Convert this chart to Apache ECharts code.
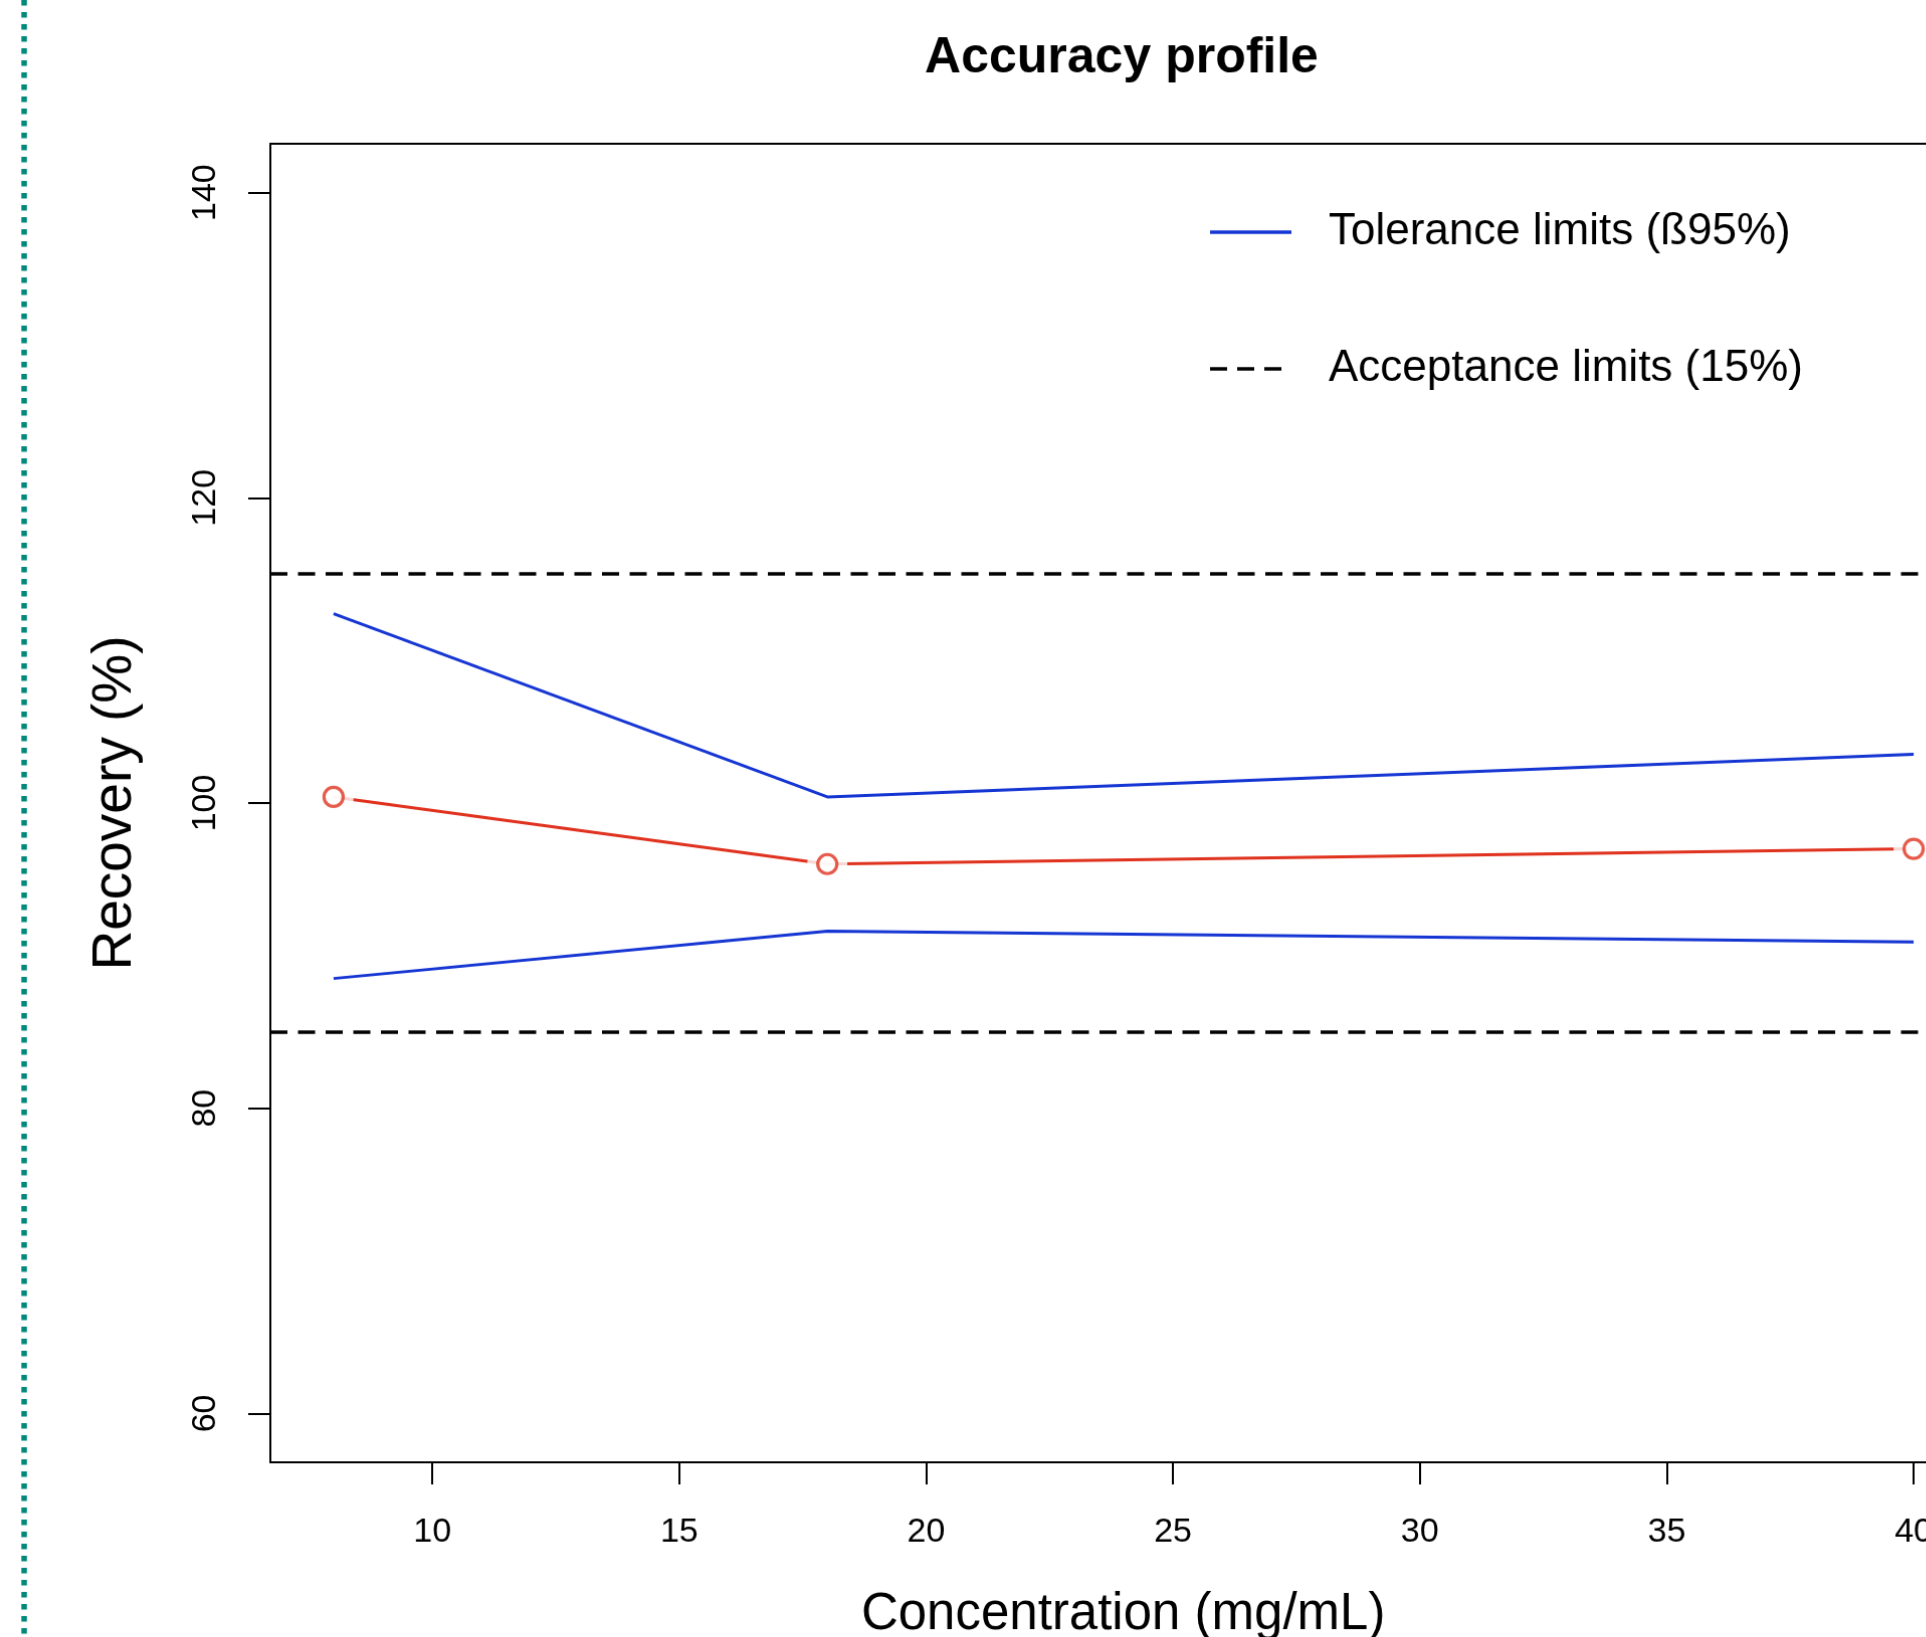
<!DOCTYPE html>
<html>
<head>
<meta charset="utf-8">
<title>Accuracy profile</title>
<script src="https://cdn.jsdelivr.net/npm/echarts@6/dist/echarts.min.js"></script>
<style>
  html, body { margin: 0; padding: 0; background: #fff; overflow: hidden; }
  /* small stretch so the plot box reaches the picture edges like the original */
  #chart { width: 1926px; height: 1637px; transform-origin: 0 0; transform: scale(1.005); }
</style>
</head>
<body>
<div id="chart"></div>
<script>
// concentration levels (mg/mL)
const conc = [8, 18, 40]
// tolerance limits (beta 95%)
const upperTol = [112.4, 100.4, 103.2]
const lowerTol = [88.5, 91.6, 90.9]
// mean recovery
const recovery = [100.4, 96.0, 97.0]
// acceptance limits (+-15%)
const acceptance = [115, 85]
// tick labels
const xTicks = [10, 15, 20, 25, 30, 35, 40]
const yTicks = [60, 80, 100, 120, 140]

const FONT = '"Liberation Sans", Arial, Helvetica, sans-serif'
const BLUE = '#1636d4'
const RED = '#e0321e'

const pairs = ys => conc.map((x, i) => [x, ys[i]])

// legend keys drawn as paths (solid bar, three dashes like R's legend)
const solidKey = 'path://M0,0H81V3H0Z'
const dashKey = 'path://M0,0H17V3.5H0Z M27,0H44V3.5H27Z M54,0H71V3.5H54Z M80.9,1.7H81V1.8H80.9Z'

// the original plot box is cut by the right edge of the picture,
// so the axis stops at the value that falls on that edge
const xMin = 6.72
const xMax = 40.31

const chart = echarts.init(document.getElementById('chart'))
chart.setOption({
  animation: false,
  backgroundColor: '#fff',
  textStyle: { fontFamily: FONT, color: '#000' },
  title: {
    text: 'Accuracy profile',
    left: 1116,
    textAlign: 'center',
    top: 33,
    padding: 0,
    textStyle: { fontFamily: FONT, fontSize: 50, fontWeight: 'bold', color: '#000' }
  },
  legend: {
    data: [
      { name: 'Tolerance limits (ß95%)', icon: solidKey },
      { name: 'Acceptance limits (15%)', icon: dashKey }
    ],
    orient: 'vertical',
    left: 1204,
    top: 209,
    padding: 0,
    itemWidth: 81,
    itemHeight: 3.5,
    itemGap: 92,
    symbolKeepAspect: false,
    selectedMode: false,
    textStyle: { fontFamily: FONT, fontSize: 44, lineHeight: 44, color: '#000', padding: [0, 0, 0, 32] }
  },
  grid: {
    left: 269,
    top: 143,
    right: 0,
    height: 1317,
    show: false,
    containLabel: false
  },
  xAxis: [
    {
      type: 'value',
      min: xMin,
      max: xMax,
      name: 'Concentration (mg/mL)',
      nameLocation: 'middle',
      nameGap: 126,
      nameTextStyle: { fontFamily: FONT, fontSize: 51, color: '#000', padding: [0, 0, 0, 47] },
      splitLine: { show: false },
      axisLine: { show: true, lineStyle: { color: '#000', width: 2 } },
      axisTick: { show: true, length: 22, lineStyle: { color: '#000', width: 2 }, customValues: xTicks },
      axisLabel: { fontFamily: FONT, fontSize: 34, color: '#000', margin: 53, customValues: xTicks }
    },
    {
      // top side of the box
      type: 'value',
      position: 'top',
      min: xMin,
      max: xMax,
      splitLine: { show: false },
      axisLine: { show: true, lineStyle: { color: '#000', width: 2 } },
      axisTick: { show: false },
      axisLabel: { show: false }
    }
  ],
  yAxis: {
    type: 'value',
    min: 56.8,
    max: 143.2,
    name: 'Recovery (%)',
    nameLocation: 'middle',
    nameGap: 127,
    nameTextStyle: { fontFamily: FONT, fontSize: 55, color: '#000' },
    splitLine: { show: false },
    axisLine: { show: true, lineStyle: { color: '#000', width: 2 } },
    axisTick: { show: true, length: 22, lineStyle: { color: '#000', width: 2 }, customValues: yTicks },
    axisLabel: { fontFamily: FONT, fontSize: 34, color: '#000', margin: 47, rotate: 90, customValues: yTicks }
  },
  graphic: [
    {
      type: 'line',
      silent: true,
      shape: { x1: 24, y1: 0, x2: 24, y2: 1637 },
      style: { stroke: '#00897b', lineWidth: 5.5, lineDash: [5.5, 6.5] }
    }
  ],
  series: [
    {
      name: 'Tolerance limits (ß95%)',
      type: 'line',
      data: pairs(upperTol),
      symbol: 'none',
      z: 2,
      lineStyle: { color: BLUE, width: 3 },
      itemStyle: { color: BLUE }
    },
    {
      name: 'Tolerance limits (ß95%)',
      type: 'line',
      data: pairs(lowerTol),
      symbol: 'none',
      z: 2,
      lineStyle: { color: BLUE, width: 3 },
      itemStyle: { color: BLUE }
    },
    {
      name: 'Acceptance limits (15%)',
      type: 'line',
      data: [],
      symbol: 'none',
      lineStyle: { color: '#000', width: 3.5, type: [17, 10.5] },
      itemStyle: { color: '#000' },
      markLine: {
        silent: true,
        symbol: 'none',
        label: { show: false },
        lineStyle: { color: '#000', width: 3.5, type: [17, 10.5] },
        emphasis: { disabled: true },
        data: acceptance.map(v => ({ yAxis: v }))
      }
    },
    {
      name: 'Recovery',
      type: 'line',
      data: pairs(recovery),
      symbol: 'none',
      z: 2,
      lineStyle: { color: RED, width: 3 }
    },
    {
      // white disc gives the gap between line and point, like R type "b"
      name: 'gap',
      type: 'scatter',
      data: pairs(recovery),
      symbol: 'circle',
      symbolSize: 40,
      silent: true,
      clip: false,
      z: 3,
      itemStyle: { color: '#fff' }
    },
    {
      name: 'Recovery points',
      type: 'scatter',
      data: pairs(recovery),
      symbol: 'circle',
      symbolSize: 19,
      silent: true,
      clip: false,
      z: 4,
      itemStyle: { color: '#fff', borderColor: RED, borderWidth: 3.2 }
    }
  ]
})
</script>
</body>
</html>
